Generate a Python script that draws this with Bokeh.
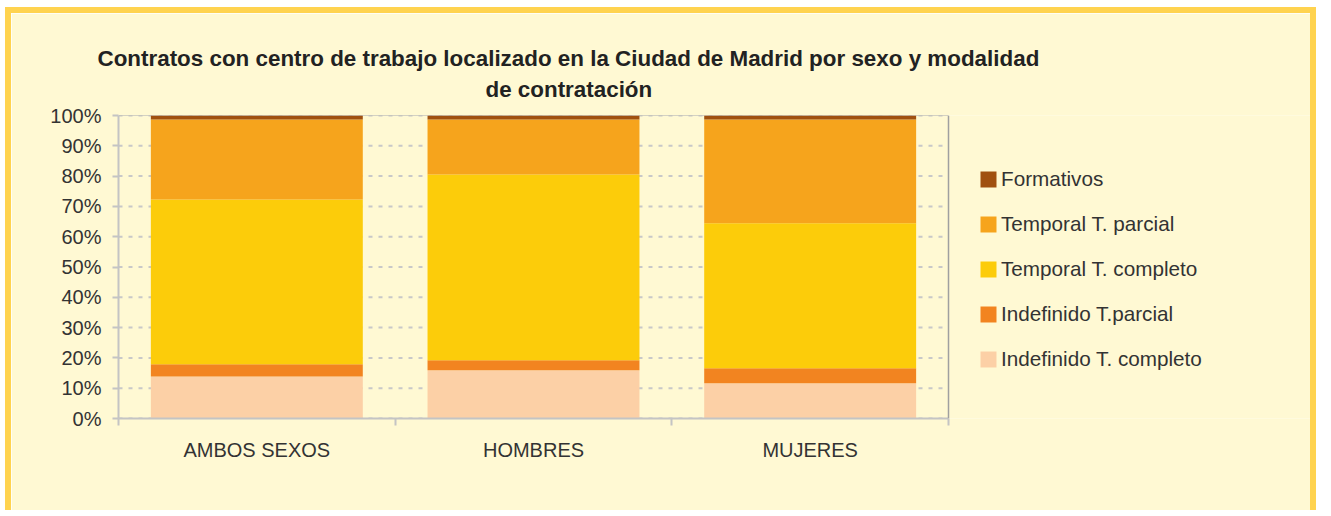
from bokeh.plotting import figure
from bokeh.models import Legend, LegendItem, FixedTicker, Range1d, Title, PrintfTickFormatter, Span
from bokeh.embed import file_html
from bokeh.resources import INLINE

title_line1 = "Contratos con centro de trabajo localizado en la Ciudad de Madrid por sexo y modalidad"
title_line2 = "de contratación"

categories = ["AMBOS SEXOS", "HOMBRES", "MUJERES"]
series = ["Indefinido T. completo", "Indefinido T.parcial", "Temporal T. completo",
          "Temporal T. parcial", "Formativos"]
indef_completo = [13.9, 15.9, 11.6]
indef_parcial = [4.0, 3.3, 5.0]
temp_completo = [54.4, 61.3, 47.8]
temp_parcial = [26.4, 18.2, 34.3]
formativos = [1.3, 1.3, 1.3]
colors = ["#FCD0A6", "#F28420", "#FCCC0A", "#F6A41C", "#A0500F"]
y_ticks = list(range(0, 101, 10))

FONT = "Liberation Sans"
BG = "#FFF9D3"
FRAME = "6px solid #FFD34F"

n = len(categories)
xs = [i + 0.5 for i in range(n)]
source = dict(x=xs)
keys = ["s0", "s1", "s2", "s3", "s4"]
for k, vals in zip(keys, [indef_completo, indef_parcial, temp_completo, temp_parcial, formativos]):
    source[k] = vals

# the plotting frame spans the chart area plus the legend area on the right
plot_px, full_px = 830, 1204
x_end = n * full_px / plot_px

p = figure(width=1311, height=503, output_backend="svg", toolbar_location=None,
           x_range=Range1d(0, x_end), y_range=Range1d(0, 100),
           min_border_left=107, min_border_right=0, min_border_top=102, min_border_bottom=98)
p.styles = {"margin-left": "5px", "margin-top": "7px",
            "border-left": FRAME, "border-right": FRAME, "border-top": FRAME,
            "box-shadow": "inset 1px 1px 0 #FFFFFF"}
p.background_fill_color = BG
p.border_fill_color = BG
p.outline_line_color = None

# dashed gridlines inside the plot area, under the bars
p.segment(x0=[0] * len(y_ticks), x1=[n] * len(y_ticks), y0=y_ticks, y1=y_ticks,
          line_color="#C8C8C8", line_width=2, line_dash="4 6")
# plot area border (top and right)
p.segment(x0=[0], x1=[n], y0=[y_ticks[-1]], y1=[y_ticks[-1]], line_color="#A8A8A8", line_width=1)
p.add_layout(Span(location=n, dimension="height", line_color="#A0A0A0", line_width=1.5))

renderers = p.vbar_stack(keys, x="x", width=0.766, source=source, color=colors, line_width=0)

# axes
p.xaxis.bounds = (0, n)
p.xaxis.ticker = FixedTicker(ticks=xs, minor_ticks=list(range(n + 1)))
p.xaxis.major_label_overrides = {x: c for x, c in zip(xs, categories)}
p.xaxis.major_tick_line_color = None
p.xaxis.major_tick_out = 0
p.xaxis.major_tick_in = 0
p.xaxis.minor_tick_in = 0
p.xaxis.minor_tick_out = 7
p.xaxis.minor_tick_line_color = "#C4C4C4"
p.xaxis.minor_tick_line_width = 2
p.xaxis.axis_line_color = "#C4C4C4"
p.xaxis.axis_line_width = 2
p.xaxis.major_label_standoff = 13
p.xaxis.major_label_text_font = FONT
p.xaxis.major_label_text_font_size = "20px"
p.xaxis.major_label_text_color = "#333333"

p.yaxis.ticker = FixedTicker(ticks=y_ticks, minor_ticks=[])
p.yaxis.formatter = PrintfTickFormatter(format="%d%%")
p.yaxis.axis_line_color = "#C4C4C4"
p.yaxis.axis_line_width = 2
p.yaxis.major_tick_line_color = "#C4C4C4"
p.yaxis.major_tick_line_width = 2
p.yaxis.major_tick_out = 6
p.yaxis.major_tick_in = 0
p.yaxis.major_label_standoff = 11
p.yaxis.major_label_text_font = FONT
p.yaxis.major_label_text_font_size = "20px"
p.yaxis.major_label_text_color = "#333333"

p.xgrid.grid_line_color = None
p.ygrid.grid_line_color = None

# legend
items = [LegendItem(label=series[i], renderers=[renderers[i]]) for i in reversed(range(len(series)))]
legend = Legend(items=items, location=(860, 47.5))
legend.border_line_color = None
legend.background_fill_alpha = 0
legend.label_text_font = FONT
legend.label_text_font_size = "20.7px"
legend.label_text_color = "#333333"
legend.glyph_width = 20
legend.glyph_height = 20
legend.label_height = 20
legend.spacing = 21
legend.label_standoff = 3
legend.padding = 10
legend.margin = 0
p.add_layout(legend)

# titles (spacer closest to the frame, then second line, then first line)
p.add_layout(Title(text=" ", text_font_size="4px", standoff=5), "above")
p.add_layout(Title(text=title_line2, align="left", offset=367, vertical_align="top", standoff=0,
                   text_font=FONT, text_font_size="22.4px", text_font_style="bold",
                   text_color="#222222"), "above")
p.add_layout(Title(text=title_line1, align="left", offset=-21, vertical_align="bottom", standoff=12,
                   text_font=FONT, text_font_size="22.4px", text_font_style="bold",
                   text_color="#222222"), "above")

open("out.html", "w").write(file_html(p, INLINE))
